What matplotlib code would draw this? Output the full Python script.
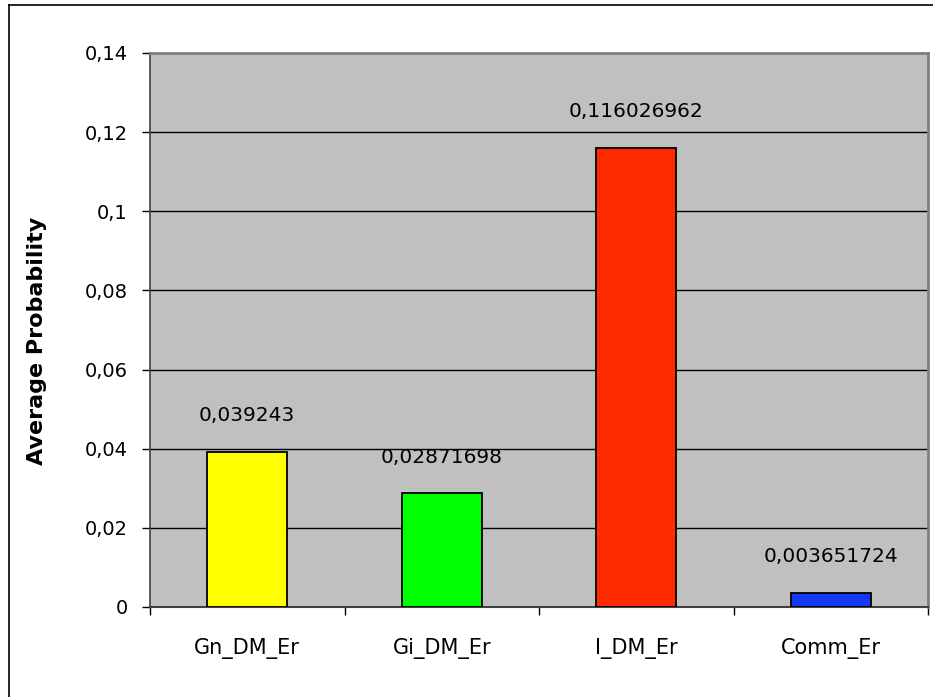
import matplotlib
matplotlib.use("Agg")
import matplotlib.pyplot as plt
from matplotlib.lines import Line2D

categories = ["Gn_DM_Er", "Gi_DM_Er", "I_DM_Er", "Comm_Er"]
values = [0.039243, 0.02871698, 0.116026962, 0.003651724]
value_labels = ["0,039243", "0,02871698", "0,116026962", "0,003651724"]
bar_colors = ["#FFFF00", "#00FF00", "#FF2A00", "#1438F5"]
y_ticks = [0, 0.02, 0.04, 0.06, 0.08, 0.10, 0.12, 0.14]
y_tick_labels = ["0", "0,02", "0,04", "0,06", "0,08", "0,1", "0,12", "0,14"]

plt.rcParams['font.family'] = ['DejaVu Sans']

W, H = 933, 697
fig = plt.figure(figsize=(W / 100, H / 100), dpi=100)
fig.patch.set_facecolor("white")

# outer frame (left and top visible)
fig.add_artist(Line2D([9 / W, 9 / W], [0, 1 - 5 / H], transform=fig.transFigure,
                      color="black", lw=1.2))
fig.add_artist(Line2D([9 / W, 1], [1 - 5 / H, 1 - 5 / H], transform=fig.transFigure,
                      color="black", lw=1.2))

left, right, top, bottom = 150, 928, 53, 607
ax = fig.add_axes([left / W, 1 - bottom / H, (right - left) / W, (bottom - top) / H])
ax.set_facecolor("#C0C0C0")

x = list(range(len(categories)))
ax.bar(x, values, width=0.41, color=bar_colors, edgecolor="black", linewidth=1.3, zorder=3)

ax.set_xlim(-0.5, len(categories) - 0.5)
ax.set_ylim(0, 0.14)

for yv in y_ticks[1:-1]:
    ax.axhline(yv, color="black", lw=1.0, zorder=1)

for xi, v, lab in zip(x, values, value_labels):
    ax.annotate(lab, (xi, v), xytext=(0, 26), textcoords="offset points",
                ha="center", va="center", fontsize=14.5, color="black", zorder=4)

ax.set_yticks(y_ticks)
ax.set_yticklabels(y_tick_labels, fontsize=14)
ax.tick_params(axis="y", direction="out", length=6, width=1, pad=10, color="black")

ax.set_xticks(x)
ax.set_xticklabels(categories, fontsize=15)
ax.tick_params(axis="x", which="major", length=0, pad=22)
ax.set_xticks([i - 0.5 for i in range(len(categories) + 1)], minor=True)
ax.tick_params(axis="x", which="minor", direction="out", length=6, width=1, color="black")

for s in ["top", "right"]:
    ax.spines[s].set_color("#808080")
    ax.spines[s].set_linewidth(2)
ax.spines["left"].set_color("#404040")
ax.spines["left"].set_linewidth(1.2)
ax.spines["bottom"].set_color("#404040")
ax.spines["bottom"].set_linewidth(1.5)

ax.set_ylabel("Average Probability", fontsize=16, fontweight="bold")
ax.yaxis.set_label_coords(-0.132, 0.48)

fig.savefig("out.png", dpi=100)
